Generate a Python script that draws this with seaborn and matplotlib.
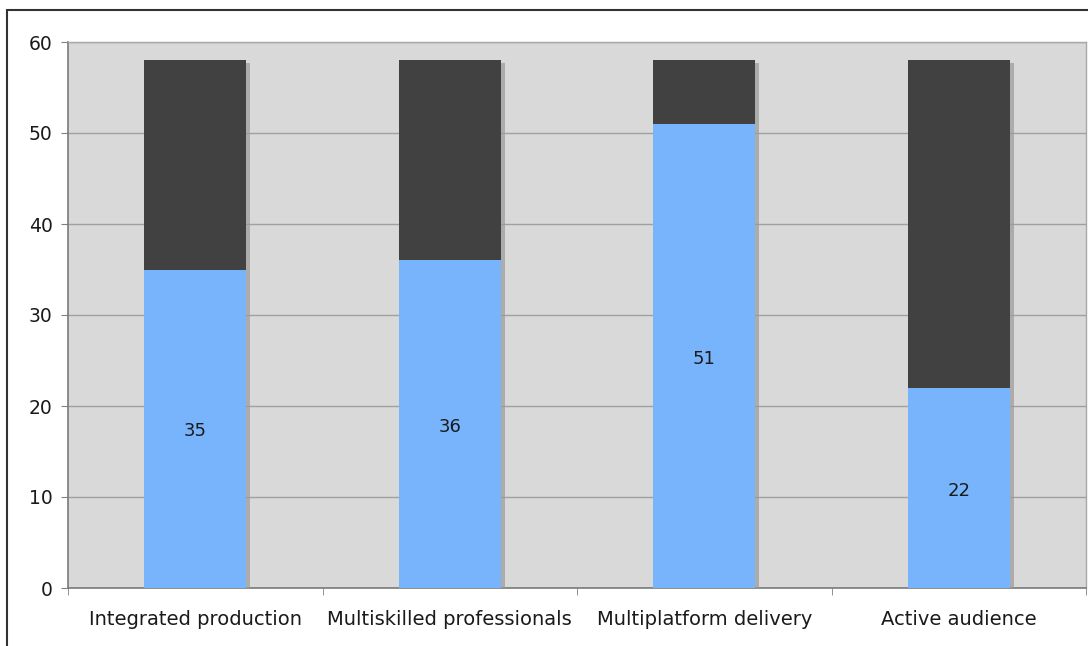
import matplotlib
matplotlib.use('Agg')
import matplotlib.pyplot as plt
import matplotlib.patheffects as pe
from matplotlib.patches import Rectangle
import pandas as pd
import seaborn as sns

# data
categorias = ['Integrated production', 'Multiskilled professionals', 'Multiplatform delivery', 'Active audience']
valores = [35, 36, 51, 22]
totais = [58, 58, 58, 58]

df = pd.DataFrame({'categoria': categorias, 'valor': valores, 'total': totais})

sns.set_style('white')
plt.rcParams['font.family'] = ['DejaVu Sans']

fig = plt.figure(figsize=(10.88, 6.46), dpi=100)
ax = fig.add_axes([68 / 1088, 1 - 588 / 646, 1018 / 1088, 546 / 646])
ax.set_facecolor('#d9d9d9')

# dark part (full stack) then blue on top
sns.barplot(data=df, x='categoria', y='total', color='#414141', width=0.4,
            saturation=1, ax=ax, zorder=3)
sns.barplot(data=df, x='categoria', y='valor', color='#78b4fc', width=0.4,
            saturation=1, ax=ax, zorder=4)

sombra = [pe.SimplePatchShadow(offset=(3, -2), shadow_rgbFace='#9a9a9a', alpha=0.7), pe.Normal()]
for i, b in enumerate(ax.patches):
    b.set_linewidth(0)
    if i < len(categorias):
        b.set_path_effects(sombra)

for i, v in enumerate(valores):
    ax.text(i, v / 2 - 0.3, str(v), ha='center', va='center', fontsize=13, color='#1a1a1a', zorder=5)

ax.set_ylim(0, 60)
ax.set_xlim(-0.5, len(categorias) - 0.5)
ax.set_yticks(range(0, 61, 10))
ax.yaxis.grid(True, color='#a0a0a0', linewidth=1)
ax.set_axisbelow(True)
ax.set_xlabel('')
ax.set_ylabel('')

ax.set_xticks(range(len(categorias)))
ax.set_xticklabels(categorias)
ax.set_xticks([i - 0.5 for i in range(len(categorias) + 1)], minor=True)
ax.tick_params(axis='x', which='major', length=0, pad=16, labelsize=14, labelcolor='#1a1a1a')
ax.tick_params(axis='x', which='minor', length=5, color='#808080', direction='out', bottom=True)
ax.tick_params(axis='y', length=5, color='#808080', direction='out', left=True, pad=6,
               labelsize=13.5, labelcolor='#1a1a1a')

for s in ['left', 'bottom']:
    ax.spines[s].set_color('#7a7a7a')
    ax.spines[s].set_linewidth(1.2)
for s in ['top', 'right']:
    ax.spines[s].set_color('#a8a8a8')
    ax.spines[s].set_linewidth(1)

# moldura da figura
fig.patches.append(Rectangle((7 / 1088, -0.1), 1.2, 0.1 + (646 - 10) / 646, transform=fig.transFigure,
                             fill=False, edgecolor='#333333', linewidth=1.5))

fig.savefig('out.png', dpi=100)
